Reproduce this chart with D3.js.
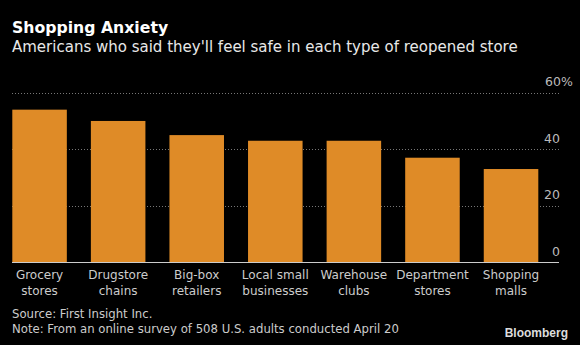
<!DOCTYPE html>
<html>
  <head>
    <meta charset="utf-8">
    <title>Shopping Anxiety</title>
    <script src="https://cdnjs.cloudflare.com/ajax/libs/d3/7.8.5/d3.min.js"></script>
    <style>
      body { margin: 0; background: #000; }
      svg { display: block; font-family: "DejaVu Sans", sans-serif; }
    </style>
  </head>
  <body>

    <svg class="chart" width="580" height="345"></svg>

    <script>

      var stores = [
        ["Grocery", "stores"],
        ["Drugstore", "chains"],
        ["Big-box", "retailers"],
        ["Local small", "businesses"],
        ["Warehouse", "clubs"],
        ["Department", "stores"],
        ["Shopping", "malls"]
      ];
      var safePct = [54, 50, 45, 43, 43, 37, 33];
      var yTicks = [0, 20, 40, 60];

      var svg = d3.select("svg.chart");

      svg.append("rect")
        .attr("width", 580).attr("height", 345)
        .attr("fill", "#000");

      var x = d3.scaleBand()
        .domain(d3.range(stores.length))
        .range([12.3, 538.3])
        .paddingInner(0.306)
        .paddingOuter(0);

      var y = d3.scaleLinear()
        .domain([0, 60])
        .range([262.3, 92.7]);

      // titles
      svg.append("text")
        .attr("x", 12).attr("y", 33)
        .attr("fill", "#fff")
        .attr("font-weight", "bold")
        .attr("font-size", 15.7)
        .text("Shopping Anxiety");

      svg.append("text")
        .attr("x", 12).attr("y", 52)
        .attr("fill", "#e8e8e8")
        .attr("font-size", 15)
        .text("Americans who said they'll feel safe in each type of reopened store");

      // grid
      svg.append("g")
        .selectAll("line")
        .data(yTicks.filter(function(d){ return d > 0; }))
        .enter()
          .append("line")
            .attr("x1", 12).attr("x2", 559)
            .attr("y1", function(d){ return Math.round(y(d)) + 0.5; })
            .attr("y2", function(d){ return Math.round(y(d)) + 0.5; })
            .attr("stroke", "#777")
            .attr("stroke-dasharray", "1,2");

      // tick labels
      var tl = svg.append("g")
        .selectAll("text")
        .data(yTicks)
        .enter()
          .append("text")
            .attr("x", 560)
            .attr("y", function(d){ return y(d) - 6.5; })
            .attr("fill", "#bbb")
            .attr("font-size", 12.5)
            .attr("text-anchor", "end")
            .text(function(d){ return d; });
      tl.filter(function(d){ return d === 60; })
        .append("tspan")
          .text("%");
      tl.filter(function(d){ return d === 60; })
        .attr("text-anchor", "start")
        .attr("x", 545);

      // bars
      svg.append("g")
        .selectAll("rect")
        .data(safePct)
        .enter()
          .append("rect")
            .attr("x", function(d, i){ return x(i); })
            .attr("width", x.bandwidth())
            .attr("y", function(d){ return y(d); })
            .attr("height", function(d){ return y(0) - y(d); })
            .attr("fill", "#df8b27");

      // baseline
      svg.append("line")
        .attr("x1", 12).attr("x2", 559)
        .attr("y1", 262.5).attr("y2", 262.5)
        .attr("stroke", "#ccc");

      // category labels
      var cats = svg.append("g")
        .selectAll("text")
        .data(stores)
        .enter()
          .append("text")
            .attr("fill", "#ccc")
            .attr("font-size", 12)
            .attr("text-anchor", "middle");
      cats.selectAll("tspan")
        .data(function(d, i){ return d.map(function(s){ return { s: s, i: i }; }); })
        .enter()
          .append("tspan")
            .attr("x", function(d){ return x(d.i) + x.bandwidth() / 2; })
            .attr("y", function(d, j){ return 279.3 + j * 16; })
            .text(function(d){ return d.s; });

      // footer
      svg.append("text")
        .attr("x", 12).attr("y", 318)
        .attr("fill", "#ccc")
        .attr("font-size", 11.7)
        .text("Source: First Insight Inc.");

      svg.append("text")
        .attr("x", 12).attr("y", 333)
        .attr("fill", "#ccc")
        .attr("font-size", 11.7)
        .text("Note: From an online survey of 508 U.S. adults conducted April 20");

      svg.append("text")
        .attr("x", 568).attr("y", 337)
        .attr("fill", "#ddd")
        .attr("font-family", "Liberation Sans, Arial, sans-serif")
        .attr("font-weight", "bold")
        .attr("font-size", 12)
        .attr("text-anchor", "end")
        .text("Bloomberg");

    </script>
  </body>
</html>
